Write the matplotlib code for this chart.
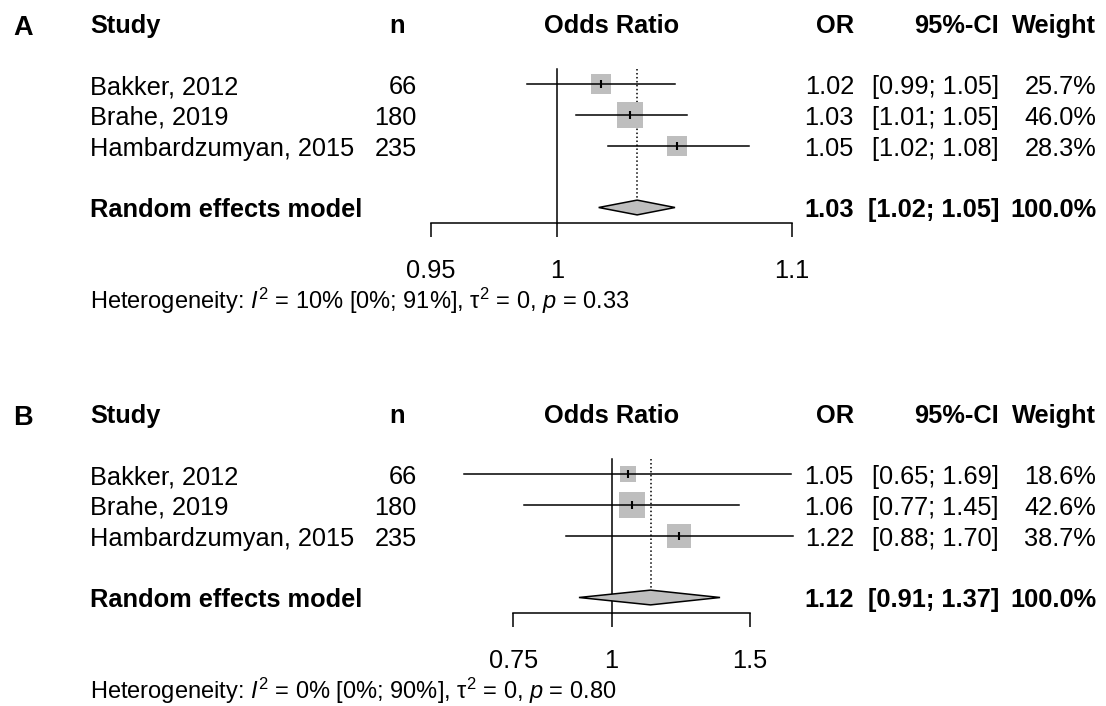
# -*- coding: utf-8 -*-
"""Forest plots of the odds ratio for three studies, two outcomes (A and B)."""
import matplotlib
matplotlib.use('Agg')
import matplotlib.pyplot as plt
from matplotlib.patches import Polygon
from matplotlib.ticker import FixedLocator, FixedFormatter, NullLocator
import matplotlib.transforms as mtransforms

# data
studies = ['Bakker, 2012', 'Brahe, 2019', 'Hambardzumyan, 2015']
n_total = [66, 180, 235]
total_weight = 100.0

or_a = [1.018, 1.030, 1.050]
lo_a = [0.988, 1.0075, 1.021]
hi_a = [1.049, 1.054, 1.081]
weight_a = [25.7, 46.0, 28.3]
re_a = [1.033, 1.017, 1.049]          # estimate, lower, upper
ticks_a = [0.95, 1, 1.1]
tick_labels_a = ['0.95', '1', '1.1']
het_a = ['10%', '0%', '91%', '0', '0.33']   # I2, I2 lo, I2 hi, tau2, p

or_b = [1.050, 1.062, 1.220]
lo_b = [0.650, 0.773, 0.876]
hi_b = [1.692, 1.453, 1.703]
weight_b = [18.6, 42.6, 38.7]
re_b = [1.121, 0.909, 1.374]
ticks_b = [0.75, 1, 1.5]
tick_labels_b = ['0.75', '1', '1.5']
het_b = ['0%', '0%', '90%', '0', '0.80']

W, H = 1106, 706
FS = 18.3
LW = 1.1
BOX = '#BEBEBE'

plt.rcParams['font.family'] = ['Liberation Sans', 'DejaVu Sans']
plt.rcParams['mathtext.fontset'] = 'custom'
plt.rcParams['mathtext.rm'] = 'Liberation Sans'
plt.rcParams['mathtext.it'] = 'Liberation Sans:italic'
plt.rcParams['mathtext.bf'] = 'Liberation Sans:bold'


def forest(fig, tax, letter, row0_px, x0_px, x1_px, ests, los, his, weights,
           re, ticks, tick_labels, het):
    row_px = 30.8
    top_px = row0_px - 0.5 * row_px
    bot_px = row0_px + 4.5 * row_px
    ax = fig.add_axes([x0_px / W, 1 - bot_px / H,
                       (x1_px - x0_px) / W, (bot_px - top_px) / H])
    ax.set_xscale('log')
    ax.set_xlim(ticks[0], ticks[-1])
    ax.set_ylim(4.5, -0.5)
    ax.patch.set_alpha(0)
    for side in ['top', 'left', 'right']:
        ax.spines[side].set_visible(False)
    ax.spines['bottom'].set_linewidth(LW)
    ax.spines['bottom'].set_bounds(ticks[0], ticks[-1])
    ax.xaxis.set_major_locator(FixedLocator(ticks))
    ax.xaxis.set_major_formatter(FixedFormatter(tick_labels))
    ax.xaxis.set_minor_locator(NullLocator())
    ax.tick_params(axis='x', length=10, width=LW, pad=16, labelsize=FS)
    ax.set_yticks([])

    # reference line and pooled estimate line
    ax.plot([1, 1], [-0.5, 4.5], color='black', lw=LW, clip_on=False)
    dh = 0.24
    ax.plot([re[0], re[0]], [-0.5, 4 - dh], color='black', lw=LW,
            ls=(0, (1, 1.6)), zorder=1)

    wmax = max(weights)
    for i in range(len(ests)):
        side = 18.5 * (weights[i] / wmax) ** 0.5
        ax.plot(ests[i], i, marker='s', ms=side, color=BOX, mew=0,
                zorder=2, clip_on=False)
        ax.plot([los[i], his[i]], [i, i], color='black', lw=LW,
                zorder=3, clip_on=False)
        ax.plot(ests[i], i, marker='|', ms=6, mew=1.5, color='black',
                zorder=4, clip_on=False)

    diamond = Polygon([[re[1], 4], [re[0], 4 - dh], [re[2], 4], [re[0], 4 + dh]],
                      closed=True, facecolor=BOX, edgecolor='black', lw=LW,
                      zorder=3, clip_on=False)
    ax.add_patch(diamond)

    # text columns: x in figure pixels, y in row units of the forest axes
    tr = mtransforms.blended_transform_factory(tax.transData, ax.transData)
    off = 0.315
    hdr = -1.97
    kw = dict(transform=tr, va='baseline', fontsize=FS)
    tax.text(13, -1.6, letter, ha='left', fontweight='bold', transform=tr,
             va='baseline', fontsize=19.5)
    tax.text(90, hdr + off, 'Study', ha='left', fontweight='bold', **kw)
    tax.text(397, hdr + off, 'n', ha='center', fontweight='bold', **kw)
    tax.text(611.5, hdr + off, 'Odds Ratio', ha='center', fontweight='bold', **kw)
    tax.text(854, hdr + off, 'OR', ha='right', fontweight='bold', **kw)
    tax.text(999, hdr + off, '95%-CI', ha='right', fontweight='bold', **kw)
    tax.text(1096, hdr + off, 'Weight', ha='right', fontweight='bold', **kw)

    for i in range(len(studies)):
        y = i + off
        tax.text(90, y, studies[i], ha='left', **kw)
        tax.text(417, y, str(n_total[i]), ha='right', **kw)
        tax.text(854, y, '%.2f' % ests[i], ha='right', **kw)
        tax.text(999, y, '[%.2f; %.2f]' % (los[i], his[i]), ha='right', **kw)
        tax.text(1096, y, '%.1f%%' % weights[i], ha='right', **kw)

    y = 4 + off
    tax.text(90, y, 'Random effects model', ha='left', fontweight='bold', **kw)
    tax.text(854, y, '%.2f' % re[0], ha='right', fontweight='bold', **kw)
    tax.text(999, y, '[%.2f; %.2f]' % (re[1], re[2]), ha='right',
             fontweight='bold', **kw)
    tax.text(1096, y, '%.1f%%' % total_weight, ha='right', fontweight='bold', **kw)

    het_txt = (r'Heterogeneity: $I^2$ = %s [%s; %s], $\mathrm{\tau}^2$ = %s, $p$ = %s'
               % tuple(het))
    tax.text(90, 7.3, het_txt, ha='left', transform=tr, va='baseline',
             fontsize=17)
    return ax


def main():
    fig = plt.figure(figsize=(W / 100, H / 100), dpi=100)
    tax = fig.add_axes([0, 0, 1, 1])
    tax.set_xlim(0, W)
    tax.set_ylim(H, 0)
    tax.axis('off')

    forest(fig, tax, 'A', 84.3, 430.7, 792.0, or_a, lo_a, hi_a, weight_a,
           re_a, ticks_a, tick_labels_a, het_a)
    forest(fig, tax, 'B', 474.3, 513.3, 750.0, or_b, lo_b, hi_b, weight_b,
           re_b, ticks_b, tick_labels_b, het_b)

    fig.savefig('out.png', dpi=100)


if __name__ == '__main__':
    main()
